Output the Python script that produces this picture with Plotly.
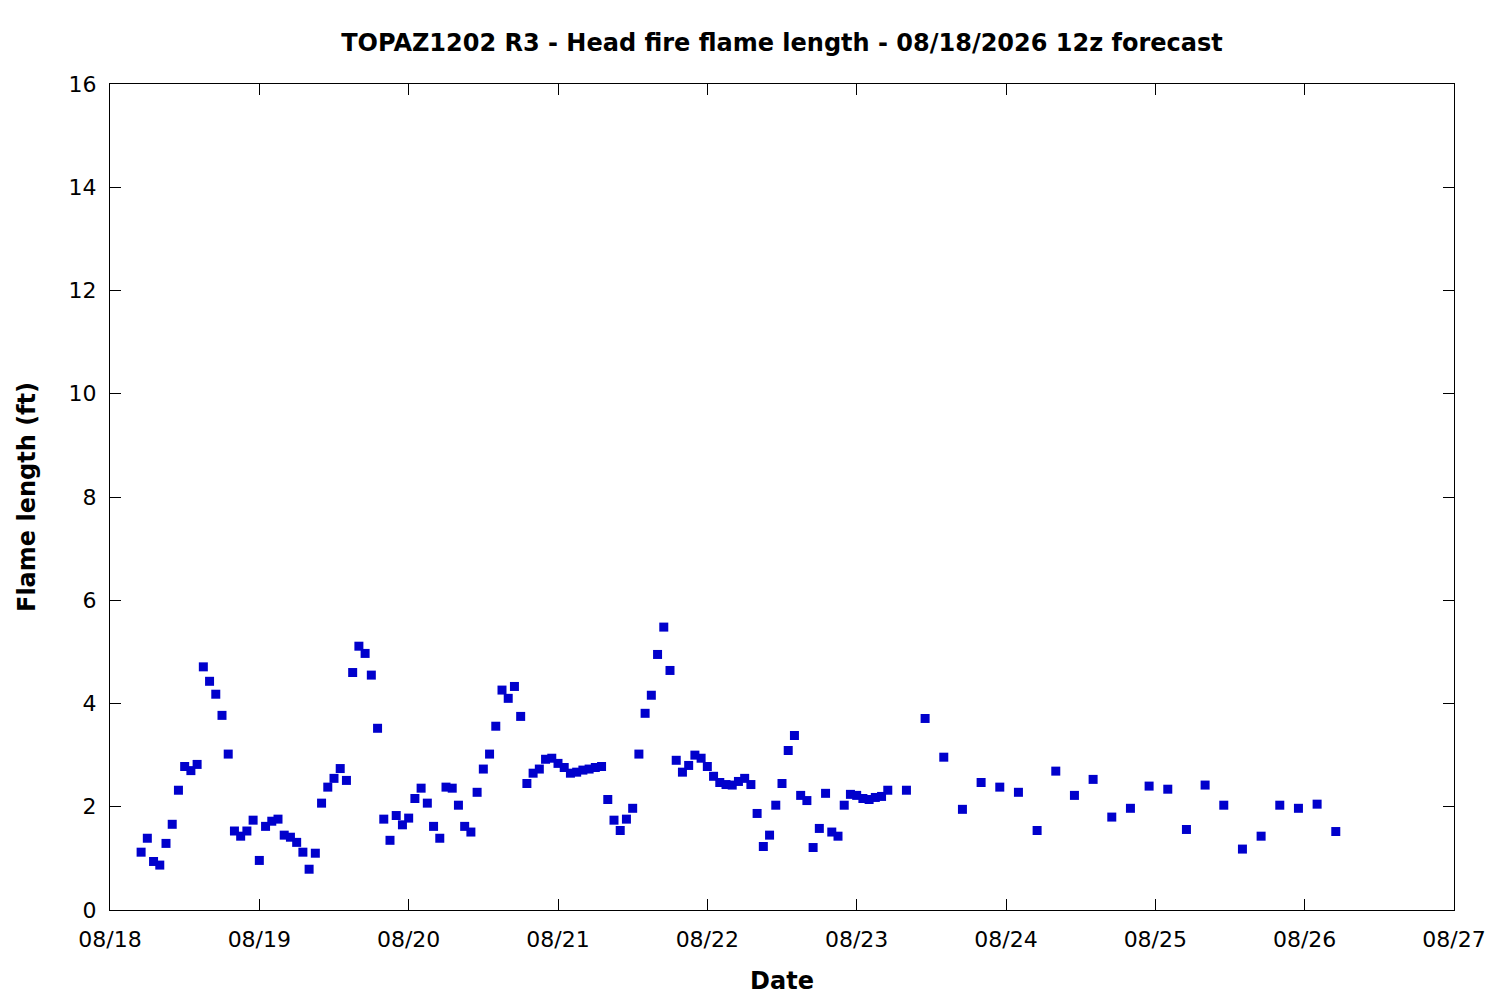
import pandas as pd
import plotly.graph_objects as go

title_text = "TOPAZ1202 R3 - Head fire flame length - 08/18/2026 12z forecast"
x_label = "Date"
y_label = "Flame length (ft)"

# hourly forecast period: 08/18 05:00 .. 08/23 05:00
hourly_start = "2026-08-18 05:00"
hourly_values = [
    1.12, 1.39, 0.94, 0.87, 1.29, 1.66, 2.32, 2.78, 2.70, 2.82,
    4.71, 4.43, 4.18, 3.77, 3.02, 1.53, 1.43, 1.53, 1.74, 0.96,
    1.62, 1.72, 1.76, 1.45, 1.41, 1.31, 1.12, 0.79, 1.10, 2.07,
    2.38, 2.55, 2.74, 2.51, 4.60, 5.11, 4.97, 4.55, 3.52, 1.76,
    1.35, 1.83, 1.65, 1.78, 2.16, 2.36, 2.07, 1.62, 1.39, 2.38,
    2.36, 2.03, 1.62, 1.51, 2.28, 2.73, 3.02, 3.56, 4.26, 4.10,
    4.33, 3.75, 2.45, 2.65, 2.73, 2.92, 2.94, 2.84, 2.76, 2.65,
    2.67, 2.71, 2.73, 2.76, 2.78, 2.14, 1.74, 1.54, 1.76, 1.97,
    3.02, 3.81, 4.16, 4.95, 5.48, 4.64, 2.90, 2.67, 2.80, 3.00,
    2.94, 2.78, 2.59, 2.47, 2.43, 2.42, 2.49, 2.55, 2.43, 1.87,
    1.23, 1.45, 2.03, 2.45, 3.09, 3.38, 2.22, 2.12, 1.21, 1.58,
    2.26, 1.51, 1.43, 2.03, 2.24, 2.22, 2.16, 2.14, 2.18, 2.20,
    2.32,
]

# 3-hourly forecast period: 08/23 08:00 .. 08/26 05:00
three_hourly_start = "2026-08-23 08:00"
three_hourly_values = [
    2.32, 3.71, 2.96, 1.95, 2.47, 2.38, 2.28, 1.54, 2.69, 2.22,
    2.53, 1.80, 1.97, 2.40, 2.34, 1.56, 2.42, 2.03, 1.18, 1.43,
    2.03, 1.97, 2.05, 1.52,
]

x_range = ["2026-08-18 00:00", "2026-08-27 00:00"]
y_range = [0, 16]

times = list(pd.date_range(hourly_start, periods=len(hourly_values), freq="1h")) + \
        list(pd.date_range(three_hourly_start, periods=len(three_hourly_values), freq="3h"))
values = hourly_values + three_hourly_values

FONT = "DejaVu Sans"

fig = go.Figure()
fig.add_trace(go.Scatter(
    x=times, y=values, mode="markers",
    marker=dict(symbol="square", size=9, color="#0000cc", line=dict(width=0)),
    showlegend=False,
))

axis_common = dict(
    showline=True, linecolor="black", linewidth=1, mirror="ticks",
    ticks="inside", ticklen=11, tickwidth=1, tickcolor="black",
    showgrid=False, zeroline=False,
    tickfont=dict(family=FONT, size=22, color="black"),
)

# page is shown with an 8px body margin, so the figure is slightly smaller
W, H = 1492, 992
fig.update_layout(
    width=W, height=H,
    paper_bgcolor="white", plot_bgcolor="white",
    margin=dict(l=102, r=46, t=76, b=90),
    title=dict(
        text="<b>" + title_text + "</b>",
        font=dict(family=FONT, size=24, color="black"),
        x=0.5, xref="paper", xanchor="center",
        y=1 - 35 / H, yref="container", yanchor="middle",
    ),
    xaxis=dict(
        type="date", range=x_range, dtick=86400000, tickformat="%m/%d",
        ticklabelstandoff=10,
        title=dict(text="<b>" + x_label + "</b>", font=dict(family=FONT, size=24, color="black"), standoff=20),
        **axis_common,
    ),
    yaxis=dict(
        range=y_range, dtick=2, tickformat="d",
        ticklabelstandoff=8,
        title=dict(text="<b>" + y_label + "</b>", font=dict(family=FONT, size=24, color="black"), standoff=26),
        **axis_common,
    ),
)

fig.write_html("out.html")
